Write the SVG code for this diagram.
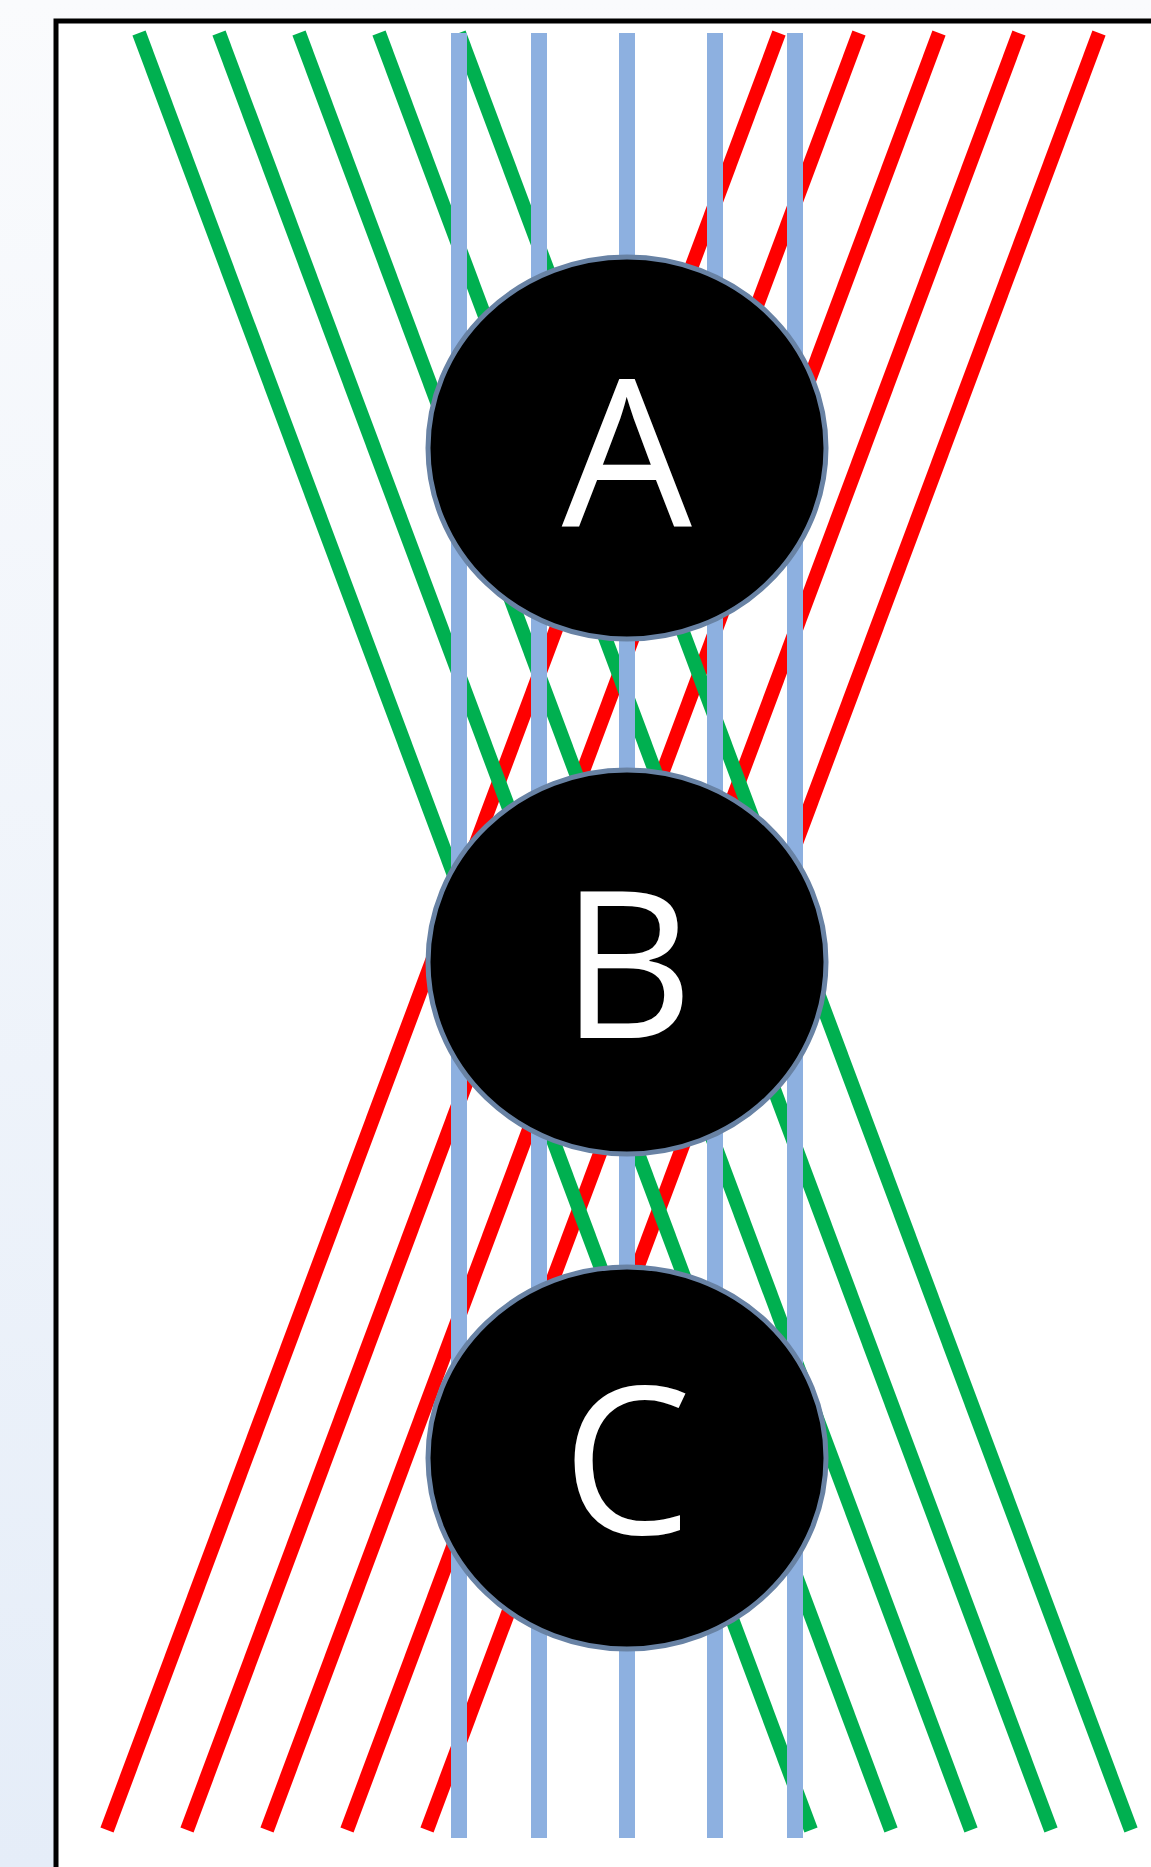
<svg xmlns="http://www.w3.org/2000/svg" width="1151" height="1867" viewBox="0 0 1151 1867">
  <defs>
    <linearGradient id="bg" x1="0" y1="0" x2="0" y2="1">
      <stop offset="0" stop-color="#fafbfd"/>
      <stop offset="1" stop-color="#e5edf8"/>
    </linearGradient>
    <style>
      .red { stroke: #ff0000; stroke-width: 14; stroke-linecap: butt; fill: none; }
      .green { stroke: #00b050; stroke-width: 14; stroke-linecap: butt; fill: none; }
      .blue { stroke: #8db0e0; stroke-width: 16; stroke-linecap: butt; fill: none; }
      .node { fill: #000000; stroke: #6882a4; stroke-width: 5; }
      .label { fill: #ffffff; font-family: "Open Sans", "Noto Sans", "Liberation Sans", sans-serif; font-size: 206px; text-anchor: middle; }
    </style>
  </defs>
  <rect x="0" y="0" width="1151" height="1867" fill="url(#bg)"/>
  <rect x="56" y="21" width="1200" height="1900" fill="#ffffff" stroke="#000000" stroke-width="5"/>
  <g id="connectors">
    <g id="red-lines">
      <line class="red" x1="779" y1="33" x2="107" y2="1830"/>
      <line class="red" x1="859" y1="33" x2="187" y2="1830"/>
      <line class="red" x1="939" y1="33" x2="267" y2="1830"/>
      <line class="red" x1="1019" y1="33" x2="347" y2="1830"/>
      <line class="red" x1="1099" y1="33" x2="427" y2="1830"/>
    </g>
    <g id="green-lines">
      <line class="green" x1="139" y1="33" x2="811" y2="1830"/>
      <line class="green" x1="219" y1="33" x2="891" y2="1830"/>
      <line class="green" x1="299" y1="33" x2="971" y2="1830"/>
      <line class="green" x1="379" y1="33" x2="1051" y2="1830"/>
      <line class="green" x1="459" y1="33" x2="1131" y2="1830"/>
    </g>
    <g id="blue-lines">
      <line class="blue" x1="459" y1="33" x2="459" y2="1838"/>
      <line class="blue" x1="539" y1="33" x2="539" y2="1838"/>
      <line class="blue" x1="627" y1="33" x2="627" y2="1838"/>
      <line class="blue" x1="715" y1="33" x2="715" y2="1838"/>
      <line class="blue" x1="795" y1="33" x2="795" y2="1838"/>
    </g>
  </g>
  <g id="node-A">
    <ellipse class="node" cx="627" cy="448" rx="199" ry="191"/>
    <text class="label" x="627" y="527">A</text>
  </g>
  <g id="node-B">
    <ellipse class="node" cx="627" cy="962" rx="199" ry="192"/>
    <text class="label" x="627" y="1038">B</text>
  </g>
  <g id="node-C">
    <ellipse class="node" cx="627" cy="1458" rx="199" ry="191"/>
    <text class="label" x="627" y="1534">C</text>
  </g>
</svg>
